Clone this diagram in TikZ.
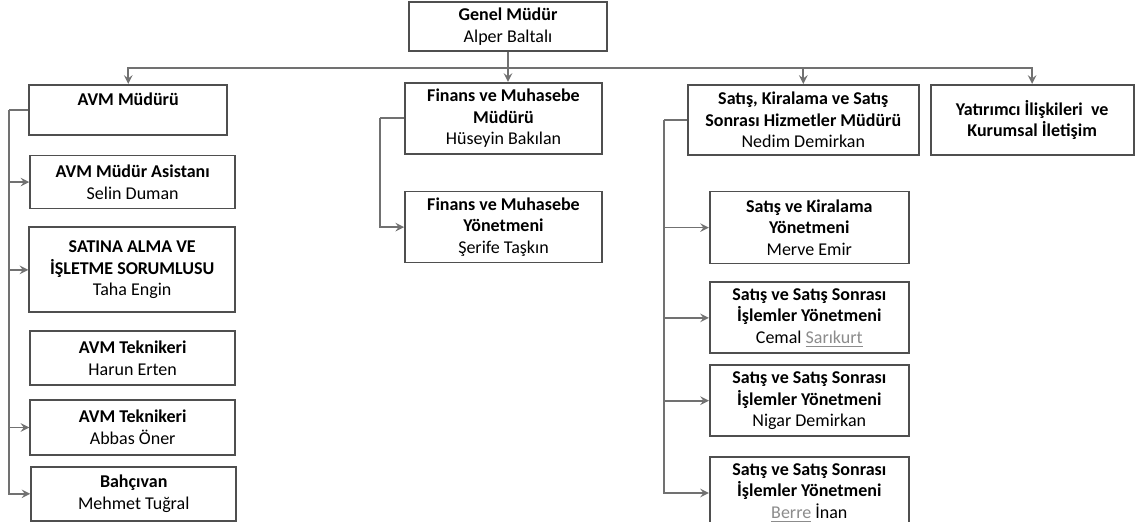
\documentclass[tikz,border=0pt]{standalone}
\usepackage{fontspec}
\setmainfont{Carlito}
\usepackage{tikz}
\usetikzlibrary{positioning, arrows}
\definecolor{boxline}{HTML}{4F4F4F}
\definecolor{linkline}{HTML}{717171}
\definecolor{spell}{HTML}{8C8C8C}
\tikzstyle{box}=[rectangle, draw=boxline, line width=0.9pt, fill=white, align=center, inner sep=1pt, font=\fontsize{9}{10.8}\selectfont\bfseries]
\tikzstyle{wire}=[linkline, line width=0.9pt]
\tikzstyle{link}=[wire, ->, >=stealth]

\begin{document}
\begin{tikzpicture}
                \useasboundingbox (0,0) rectangle (567.5pt,-261pt);

                % Ust kademe
                \node[box, minimum width=99pt, minimum height=24.5pt] (genel) at (254pt,-13.25pt) {Genel Müdür\\{\mdseries Alper Baltalı}};
                \node[box, minimum width=98.5pt, minimum height=35.5pt, below=15pt of genel, xshift=-2.25pt] (finm) {Finans ve Muhasebe\\Müdürü\\{\mdseries Hüseyin Bakılan}};
                \node[box, minimum width=99pt, minimum height=25pt, left=88pt of finm.north west, anchor=north east, yshift=-1pt] (avm) {AVM Müdürü\\~};
                \node[box, minimum width=115.5pt, minimum height=35pt, right=42pt of finm.north east, anchor=north west, yshift=-1pt] (satm) {Satış, Kiralama ve Satış\\Sonrası Hizmetler Müdürü\\{\mdseries Nedim Demirkan}};
                \node[box, minimum width=101.5pt, minimum height=35pt, right=5pt of satm] (yat) {Yatırımcı İlişkileri\ \ ve\\Kurumsal İletişim};

                % AVM birimi
                \node[box, minimum width=102.5pt, minimum height=26.5pt, below=9.5pt of avm.south west, anchor=north west, xshift=0.5pt] (asis) {AVM Müdür Asistanı\\{\mdseries Selin Duman}};
                \node[box, minimum width=103pt, minimum height=42.5pt, below=8.5pt of asis.south west, anchor=north west, xshift=-0.5pt] (satin) {SATINA ALMA VE\\İŞLETME SORUMLUSU\\{\mdseries Taha Engin}};
                \node[box, minimum width=102.5pt, minimum height=27pt, below=8.5pt of satin.south west, anchor=north west, xshift=0.5pt] (harun) {AVM Teknikeri\\{\mdseries Harun Erten}};
                \node[box, minimum width=102.5pt, minimum height=27.5pt, below=6.5pt of harun.south west, anchor=north west] (abbas) {AVM Teknikeri\\{\mdseries Abbas Öner}};
                \node[box, minimum width=102.5pt, minimum height=27pt, below=5pt of abbas.south west, anchor=north west, xshift=0.5pt] (bahc) {Bahçıvan\\{\mdseries Mehmet Tuğral}};

                % Finans birimi
                \node[box, minimum width=98.5pt, minimum height=35.5pt, below=18pt of finm] (finy) {Finans ve Muhasebe\\Yönetmeni\\{\mdseries Şerife Taşkın}};

                % Satis birimi
                \node[box, minimum width=99.5pt, minimum height=36pt, below=17.5pt of satm.south west, anchor=north west, xshift=11pt] (satk) {Satış ve Kiralama\\Yönetmeni\\{\mdseries Merve Emir}};
                \node[box, minimum width=99.5pt, minimum height=35.5pt, below=8.5pt of satk] (cemal) {Satış ve Satış Sonrası\\İşlemler Yönetmeni\\{\mdseries Cemal {\color{spell}\underline{Sarıkurt}}}};
                \node[box, minimum width=99.5pt, minimum height=35.5pt, below=5pt of cemal] (nigar) {Satış ve Satış Sonrası\\İşlemler Yönetmeni\\{\mdseries Nigar Demirkan}};
                \node[box, minimum width=99.5pt, minimum height=36pt, below=9.5pt of nigar] (berre) {Satış ve Satış Sonrası\\İşlemler Yönetmeni\\{\mdseries {\color{spell}\underline{Berre}} İnan}};

                % Genel mudurden dagitim
                \coordinate[below=8pt of genel.south] (hub);
                \draw[wire] (genel.south) -- (hub);
                \draw[link] (hub) -| (avm.north);
                \draw[link] (hub) -- (hub |- finm.north);
                \draw[link] (hub) -| (satm.north);
                \draw[link] (hub) -| (yat.north);

                % AVM hatti
                \coordinate[left=9.5pt of avm.west] (avmbus);
                \draw[wire] (avm.west) -- (avmbus);
                \draw[link] (avmbus) |- (asis);
                \draw[link] (avmbus) |- (satin);
                \draw[link] (avmbus) |- (abbas);
                \draw[link] (avmbus) |- (bahc);

                % Finans hatti
                \coordinate[left=12pt of finm.west] (finbus);
                \draw[wire] (finm.west) -- (finbus);
                \draw[link] (finbus) |- (finy);

                % Satis hatti
                \coordinate[left=11.5pt of satm.west] (satbus);
                \draw[wire] (satm.west) -- (satbus);
                \draw[link] (satbus) |- (satk);
                \draw[link] (satbus) |- (cemal);
                \draw[link] (satbus) |- (nigar);
                \draw[link] (satbus) |- (berre);
            \end{tikzpicture}
\end{document}
